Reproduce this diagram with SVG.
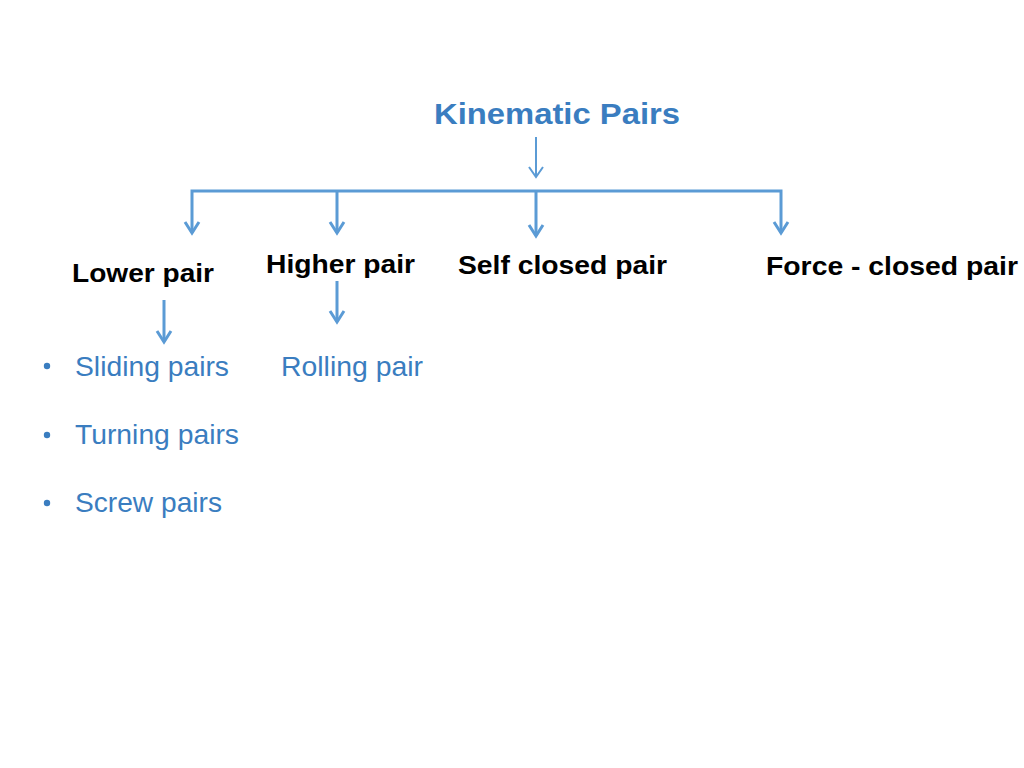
<svg xmlns="http://www.w3.org/2000/svg" width="1024" height="768" viewBox="0 0 1024 768">
<style>
.title{font-family:"Liberation Sans",Arial,sans-serif;font-weight:bold;font-size:30px;fill:#3A7DC0}
.lbl{font-family:"Liberation Sans",Arial,sans-serif;font-weight:bold;font-size:26px;fill:#000}
.item{font-family:"Liberation Sans",Arial,sans-serif;font-size:28px;fill:#3A7DC0}
.ln{stroke:#5B9BD5;stroke-width:3;fill:none;stroke-linecap:butt}
.thin{stroke:#5B9BD5;stroke-width:2;fill:none}
.bul{fill:#3A7DC0}
</style>
<rect width="1024" height="768" fill="#fff"/>
<g id="connectors">
<line class="thin" x1="536" y1="137" x2="536" y2="177"/>
<polyline class="thin" points="529,167 536,177 543,167"/>
<polyline class="ln" points="192,233 192,191 781,191 781,233"/>
<line class="ln" x1="337" y1="191" x2="337" y2="233"/>
<line class="ln" x1="536" y1="191" x2="536" y2="236"/>
<line class="ln" x1="164" y1="300" x2="164" y2="342"/>
<line class="ln" x1="337" y1="281" x2="337" y2="322"/>
<g class="ln" stroke-linejoin="miter">
<polyline points="185,222 192,233 199,222"/>
<polyline points="330,222 337,233 344,222"/>
<polyline points="529,225 536,236 543,225"/>
<polyline points="774,222 781,233 788,222"/>
<polyline points="157,331 164,342 171,331"/>
<polyline points="330,311 337,322 344,311"/>
</g>
</g>
<g id="kinematic-pairs"><text class="title" x="434" y="124" textLength="246" lengthAdjust="spacingAndGlyphs">Kinematic Pairs</text></g>
<g id="lower-pair"><text class="lbl" x="72" y="282" textLength="142" lengthAdjust="spacingAndGlyphs">Lower pair</text></g>
<g id="higher-pair"><text class="lbl" x="266" y="273" textLength="149" lengthAdjust="spacingAndGlyphs">Higher pair</text></g>
<g id="self-closed-pair"><text class="lbl" x="458" y="274" textLength="209" lengthAdjust="spacingAndGlyphs">Self closed pair</text></g>
<g id="force-closed-pair"><text class="lbl" x="766" y="275" textLength="252" lengthAdjust="spacingAndGlyphs">Force - closed pair</text></g>
<g id="lower-pair-types">
<circle class="bul" cx="47" cy="366" r="3.2"/>
<text class="item" x="75" y="376" textLength="154" lengthAdjust="spacingAndGlyphs">Sliding pairs</text>
<circle class="bul" cx="47" cy="435" r="3.2"/>
<text class="item" x="75" y="444" textLength="164" lengthAdjust="spacingAndGlyphs">Turning pairs</text>
<circle class="bul" cx="47" cy="503" r="3.2"/>
<text class="item" x="75" y="512" textLength="147" lengthAdjust="spacingAndGlyphs">Screw pairs</text>
</g>
<g id="rolling-pair"><text class="item" x="281" y="376" textLength="142" lengthAdjust="spacingAndGlyphs">Rolling pair</text></g>
</svg>
